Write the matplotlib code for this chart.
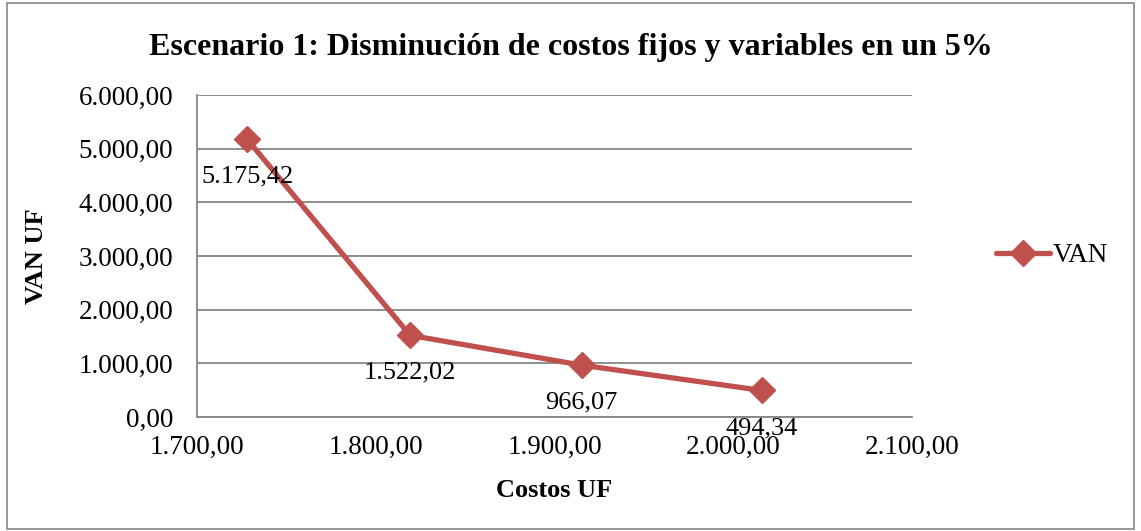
import matplotlib.pyplot as plt
from matplotlib.ticker import FuncFormatter
from matplotlib.patches import Rectangle

# Data
costos_uf = [1728.0, 1819.2, 1915.2, 2016.1]
van_uf = [5175.42, 1522.02, 966.07, 494.34]
serie = 'VAN'

titulo = 'Escenario 1: Disminución de costos fijos y variables en un 5%'
x_label = 'Costos UF'
y_label = 'VAN UF'

plt.rcParams['font.family'] = ['Liberation Serif', 'DejaVu Serif']

RED = '#C0504D'
GRID = '#868686'


def es_num(x, pos=None):
    """Spanish style number: 1.234,56"""
    s = f'{x:,.2f}'
    return s.replace(',', 'X').replace('.', ',').replace('X', '.')


fig = plt.figure(figsize=(11.41, 5.31), dpi=100)
ax = fig.add_axes([0.1727, 0.2147, 0.7993 - 0.1727, 0.8211 - 0.2147])

ax.plot(costos_uf, van_uf, color=RED, lw=3.8, marker='D', markersize=13,
        markeredgecolor=RED, markerfacecolor=RED, label=serie, zorder=3,
        solid_capstyle='round')

# data labels under each point (the last one touches the tick label, as in the original)
for x, y in zip(costos_uf, van_uf):
    ax.annotate(es_num(y), (x, y), xytext=(0, -27), textcoords='offset points',
                ha='center', va='center', fontsize=19, zorder=4)

ax.set_xlim(1700, 2100)
ax.set_ylim(0, 6000)
ax.set_xticks([1700, 1800, 1900, 2000, 2100])
ax.set_yticks([0, 1000, 2000, 3000, 4000, 5000, 6000])
ax.xaxis.set_major_formatter(FuncFormatter(es_num))
ax.yaxis.set_major_formatter(FuncFormatter(es_num))
ax.tick_params(axis='both', length=0, labelsize=19.5)
ax.tick_params(axis='y', pad=17)
ax.tick_params(axis='x', pad=13)

ax.grid(axis='y', color=GRID, lw=1.3)
ax.set_axisbelow(True)
for side in ['top', 'right']:
    ax.spines[side].set_visible(False)
for side in ['left', 'bottom']:
    ax.spines[side].set_color(GRID)
    ax.spines[side].set_linewidth(1.3)

ax.set_xlabel(x_label, fontsize=19, fontweight='bold', labelpad=14)
ax.set_ylabel(y_label, fontsize=19, fontweight='bold', labelpad=22)

fig.text(0.5, 0.91, titulo, ha='center', va='center', fontsize=23,
         fontweight='bold')

ax.legend(loc='center left', bbox_to_anchor=(1.083, 0.5), frameon=False,
          fontsize=19.5, handlelength=2.0, handletextpad=0.1)

fig.patches.append(Rectangle((0.006, 0.004), 0.988, 0.99, transform=fig.transFigure,
                             fill=False, edgecolor=GRID, lw=1.2))

fig.savefig('out.png', dpi=100)
